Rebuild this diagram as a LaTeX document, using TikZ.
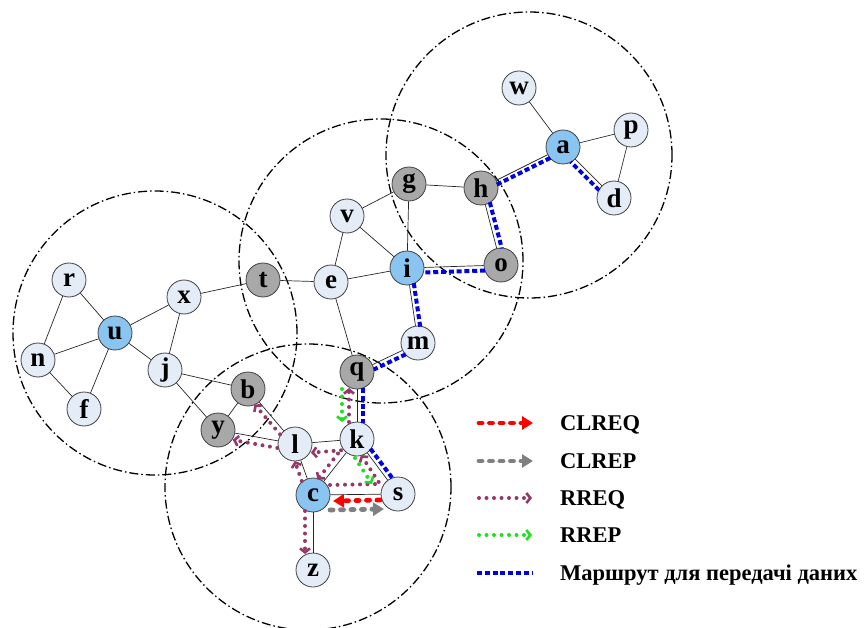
\documentclass[tikz,border=0pt]{standalone}
\usepackage{fontspec}
\setmainfont{Liberation Serif}
\usetikzlibrary{arrows.meta}
\definecolor{nodelight}{RGB}{228,236,247}
\definecolor{nodeblue}{RGB}{138,196,240}
\definecolor{nodegray}{RGB}{168,168,168}
\definecolor{rreqcol}{RGB}{150,55,105}
\definecolor{rrepcol}{RGB}{30,225,30}
\definecolor{routecol}{RGB}{0,0,225}
\definecolor{clreqcol}{RGB}{255,0,0}
\definecolor{clrepcol}{RGB}{128,128,128}
\begin{document}
\begin{tikzpicture}[x=1pt,y=-1pt,
  vtx/.style={circle, draw=black!75, line width=0.8pt, minimum size=34pt, inner sep=0pt,
              font=\fontsize{27}{27}\selectfont\bfseries},
  plain/.style={vtx, fill=nodelight},
  head/.style={vtx, fill=nodeblue},
  gate/.style={vtx, fill=nodegray},
  link/.style={draw=black!85, line width=0.7pt},
  zone/.style={draw=black, line width=1.3pt, dash pattern=on 9pt off 3pt on 1.5pt off 3pt},
  route/.style={draw=routecol, line width=4pt, dash pattern=on 5pt off 2.8pt},
  routeseg/.style={route, shorten <=16pt, shorten >=16pt},
  dots/.style={line width=4pt, line cap=round, dash pattern=on 0pt off 7.5pt},
  barb/.style={-{Straight Barb[length=4pt,width=10pt,line width=2.6pt]}},
  rreq/.style={draw=rreqcol, dots, barb},
  rrep/.style={draw=rrepcol, dots, barb},
  ctrl/.style={line width=4.8pt, line cap=round, dash pattern=on 3pt off 7.5pt,
               -{Triangle[length=11pt,width=13pt]}},
  clreq/.style={draw=clreqcol, ctrl, fill=clreqcol},
  clrep/.style={draw=clrepcol, ctrl, fill=clrepcol},
  legendtext/.style={anchor=base west, inner sep=0pt, font=\fontsize{22.5}{22.5}\selectfont\bfseries}
]
\useasboundingbox (0,0) rectangle (864,628);

% radio coverage zones of the four cluster heads
\draw[zone] (155,333) circle[radius=142pt];
\draw[zone] (381,261) circle[radius=142pt];
\draw[zone] (529,155) circle[radius=143pt];
\draw[zone] (308,487) circle[radius=143pt];

% network nodes
\node[plain] (w) at (519,88) {w};
\node[head]  (a) at (563,147) {a};
\node[plain] (p) at (631,130) {p};
\node[plain] (d) at (614,198) {d};
\node[gate]  (g) at (409,184) {g};
\node[gate]  (h) at (481,188) {h};
\node[plain] (v) at (347,216) {v};
\node[plain] (e) at (331,282) {e};
\node[head]  (i) at (407,268) {i};
\node[gate]  (o) at (501,265) {o};
\node[gate]  (t) at (263,280) {t};
\node[plain] (x) at (184,297) {x};
\node[plain] (r) at (69,280) {r};
\node[head]  (u) at (115,333) {u};
\node[plain] (n) at (38,360) {n};
\node[plain] (f) at (84,409) {f};
\node[plain] (j) at (165,370) {j};
\node[plain] (m) at (418,343) {m};
\node[gate]  (q) at (357,372) {q};
\node[gate]  (b) at (248,389) {b};
\node[gate]  (y) at (218,430) {y};
\node[plain] (l) at (295,444) {l};
\node[plain] (k) at (357,439) {k};
\node[head]  (c) at (313,495) {c};
\node[plain] (s) at (398,494) {s};
\node[plain] (z) at (313,570) {z};

% links
\foreach \p/\q in {w/a, a/p, p/d, a/d, a/h, g/h, g/v, g/i, v/i, v/e, e/i, i/o, h/o,
                   t/e, x/t, e/q, i/m, m/q, x/u, x/j, u/r, u/n, u/f, u/j, r/n, n/f,
                   j/b, j/y, b/y, b/l, y/l, l/k, l/c, k/c, k/s, c/s, c/z, q/k}
  \draw[link] (\p) -- (\q);

% data route
\draw[routeseg] ([shift={(-3.5,3.6)}]d.center) -- ([shift={(-3.5,3.6)}]a.center);
\draw[routeseg] ([shift={(1.5,3.8)}]a.center) -- ([shift={(1.5,3.8)}]h.center);
\draw[routeseg] ([shift={(4.8,-1.2)}]h.center) -- ([shift={(4.8,-1.2)}]o.center);
\draw[routeseg] ([shift={(0,5)}]o.center) -- ([shift={(0,5)}]i.center);
\draw[routeseg] ([shift={(4.5,-0.6)}]i.center) -- ([shift={(4.5,-0.6)}]m.center);
\draw[routeseg] ([shift={(2.3,4.4)}]m.center) -- ([shift={(2.3,4.4)}]q.center);
\draw[routeseg] ([shift={(6,0)}]q.center) -- ([shift={(6,0)}]k.center);
\draw[routeseg] ([shift={(3.9,-3.1)}]k.center) -- ([shift={(3.9,-3.1)}]s.center);

% route requests
\draw[rreq, shorten <=17pt, shorten >=16pt] ([shift={(-5.6,2)}]c.center) -- ([shift={(-5.6,2)}]l.center);
\draw[rreq, shorten <=16pt, shorten >=16pt] ([shift={(-8,0)}]c.center) -- ([shift={(-8,0)}]z.center);
\draw[rreq, shorten <=17pt, shorten >=16pt] ([shift={(-3.9,3.2)}]l.center) -- ([shift={(-3.9,3.2)}]b.center);
\draw[rreq, shorten <=17pt, shorten >=16pt] ([shift={(-1,7)}]l.center) -- ([shift={(-1,7)}]y.center);
\draw[rreq, shorten <=16pt, shorten >=16pt] ([shift={(0,10)}]k.center) -- ([shift={(0,10)}]l.center);
\draw[rreq, shorten <=21pt, shorten >=17pt] ([shift={(-6,-2)}]k.center) -- ([shift={(-6,-2)}]c.center);
\draw[rreq, shorten <=17pt, shorten >=16pt] ([shift={(-8,0)}]k.center) -- ([shift={(-8,0)}]q.center);
\draw[rreq] ([shift={(17,-10)}]c.center) -- ([shift={(-18,-10)}]s.center) -- ([shift={(4,16)}]k.center);

% route replies
\draw[rrep, shorten <=17pt, shorten >=17pt] ([shift={(-15,0)}]q.center) -- ([shift={(-15,0)}]k.center);
\draw[rrep] ([shift={(-2,19)}]k.center) -- ([shift={(-26,-10)}]s.center);

% cluster join request and reply
\draw[clreq] ([shift={(-18,6)}]s.center) -- ([shift={(20,6)}]c.center);
\draw[clrep] ([shift={(17,15)}]c.center) -- ([shift={(-14,15)}]s.center);

% legend
\coordinate (k1a) at (479,423); \coordinate (k1b) at (533,423);
\coordinate (k2a) at (479,461); \coordinate (k2b) at (533,461);
\coordinate (k3a) at (479,498); \coordinate (k3b) at (532,498);
\coordinate (k4a) at (479,535); \coordinate (k4b) at (532,535);
\coordinate (k5a) at (477,573); \coordinate (k5b) at (532,573);
\draw[clreq] (k1a) -- (k1b);
\draw[clrep] (k2a) -- (k2b);
\draw[rreq] (k3a) -- (k3b);
\draw[rrep] (k4a) -- (k4b);
\draw[route] (k5a) -- (k5b);
\node[legendtext] (t1) at (560,430.5) {CLREQ};
\node[legendtext] (t2) at (560,468.5) {CLREP};
\node[legendtext] (t3) at (560,505.5) {RREQ};
\node[legendtext] (t4) at (560,542.5) {RREP};
\node[legendtext] (t5) at (560,580.5) {Маршрут для передачі даних};
\end{tikzpicture}
\end{document}
